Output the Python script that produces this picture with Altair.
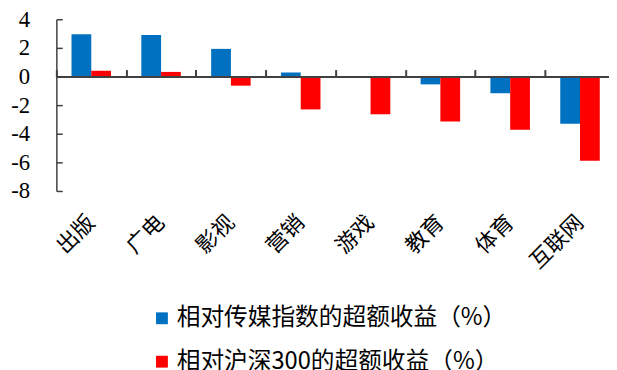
import altair as alt
import pandas as pd

categories = ["出版", "广电", "影视", "营销", "游戏", "教育", "体育", "互联网"]
media_excess = [2.95, 2.90, 1.93, 0.28, -0.10, -0.55, -1.17, -3.31]
hs300_excess = [0.40, 0.32, -0.64, -2.30, -2.64, -3.15, -3.72, -5.88]
series = ["相对传媒指数的超额收益（%）", "相对沪深300的超额收益（%）"]
colors = ["#0070C0", "#FF0000"]
y_ticks = [-8, -6, -4, -2, 0, 2, 4]

rows = []
for c, a, b in zip(categories, media_excess, hs300_excess):
    rows.append({"cat": c, "series": series[0], "value": a})
    rows.append({"cat": c, "series": series[1], "value": b})
df = pd.DataFrame(rows)

W, H = 560, 174
AX = "#404040"
CJK = "Noto Sans CJK SC"
SERIF = "Liberation Serif"

xscale = alt.Scale(domain=categories, range=[0, 566], paddingInner=0.434, paddingOuter=0.217)
yscale = alt.Scale(domain=[-8, 4], nice=False, zero=False)
offscale = alt.Scale(domain=series)

bars = alt.Chart(df).mark_bar().encode(
    x=alt.X("cat:N", sort=categories, scale=xscale,
            axis=alt.Axis(orient="top", offset=-58, labels=False, title=None,
                          domainColor=AX, domainWidth=2, tickColor=AX, tickWidth=2,
                          tickSize=7, tickOffset=-35.4, grid=False, zindex=1)),
    xOffset=alt.XOffset("series:N", sort=series, scale=offscale),
    y=alt.Y("value:Q", scale=yscale,
            axis=alt.Axis(orient="left", values=y_ticks, ticks=False, title=None, grid=False,
                          labelExpr="'' + datum.value",
                          labelFont=SERIF, labelFontSize=23, labelColor="black",
                          labelPadding=27, domainColor=AX, domainWidth=1.5, zindex=1)),
    color=alt.Color("series:N", scale=alt.Scale(domain=series, range=colors),
                    legend=alt.Legend(orient="none", legendX=95, legendY=291, direction="vertical",
                                      title=None, symbolType="square", symbolSize=144,
                                      symbolStrokeWidth=0, labelFont=CJK, labelFontSize=24,
                                      labelColor="black", labelOffset=3, labelLimit=0,
                                      rowPadding=20, padding=0)),
)

ghost = alt.Chart(df).mark_bar(opacity=0).encode(
    x=alt.X("cat:N", sort=categories, scale=xscale,
            axis=alt.Axis(orient="bottom", title=None, domain=False, ticks=False, tickSize=0,
                          labelAngle=-45, labelAlign="right", labelBaseline="middle",
                          labelPadding=28, labelFont=CJK, labelFontSize=22, labelColor="black",
                          grid=False)),
    xOffset=alt.XOffset("series:N", sort=series, scale=offscale),
    y=alt.Y("value:Q", scale=yscale,
            axis=alt.Axis(orient="right", offset=-W, values=y_ticks, labels=False, domain=False,
                          title=None, grid=False, tickColor=AX, tickWidth=1.5, tickSize=6,
                          zindex=1)),
)

chart = alt.layer(ghost, bars).resolve_axis(x="independent", y="independent").properties(
    width=W, height=H,
    autosize=alt.AutoSizeParams(type="none"),
    padding={"left": 49, "top": 9, "right": 0, "bottom": 179},
    background="white",
).configure_view(stroke=None)

chart.save("out.html", embed_options={"renderer": "svg", "actions": False})
